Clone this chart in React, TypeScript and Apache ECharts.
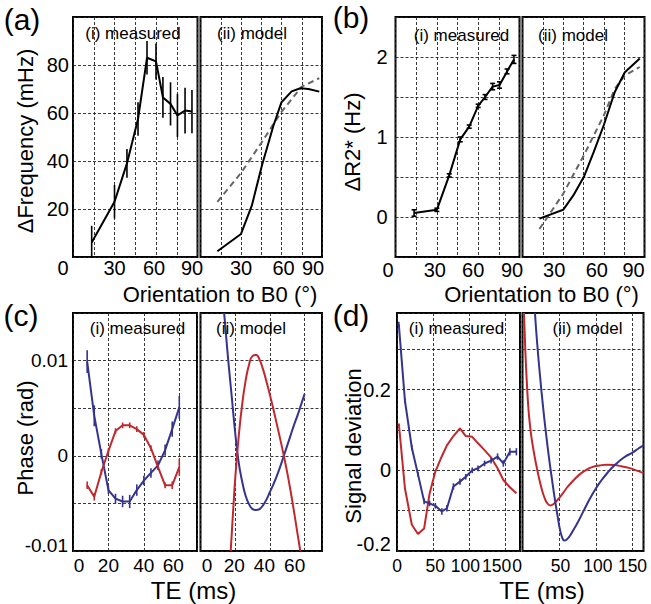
import React, { useEffect, useRef } from "react";
import * as echarts from "echarts";

// ---------- DATA ----------
// (a) / (b): orientation to B0 (degrees)
const measAngles = [13.5, 30, 39, 47, 53.5, 60, 65, 70.5, 75.5, 81, 86];
const freqMeas = [6, 23, 39, 57.5, 83, 81.5, 66.5, 63.8, 59, 61, 60.6];
const freqErr = [7, 7, 6, 7, 7, 7.5, 8.5, 9, 9, 9.5, 9];
const freqModelAngles = [12.5, 30, 38, 45.5, 54, 60, 67.5, 74, 80, 88];
const freqModel = [2.4, 9.6, 21.4, 38.1, 54.7, 64.5, 69, 70.3, 70, 68.9];
const freqModelAltAngles = [12.5, 30, 45, 60, 75, 88];
const freqModelAlt = [23, 35, 47.5, 60.5, 71, 74.5];

const r2Meas = [0.05, 0.09, 0.52, 0.97, 1.13, 1.39, 1.5, 1.63, 1.65, 1.82, 1.97];
const r2Err = [0.04, 0.02, 0.02, 0.03, 0.02, 0.02, 0.03, 0.04, 0.04, 0.03, 0.05];
const r2ModelAngles = [12.5, 30, 37.5, 45.5, 52.5, 60, 68, 75.5, 86.5];
const r2Model = [-0.02, 0.09, 0.27, 0.51, 0.81, 1.15, 1.56, 1.81, 1.98];
const r2ModelAltAngles = [12.5, 30, 45.5, 60, 68, 75.5, 86.5];
const r2ModelAlt = [-0.15, 0.29, 0.78, 1.27, 1.6, 1.77, 1.875];

// (c): phase vs TE (ms)
const phaseTE = [8, 12, 16, 20, 24, 28, 32, 36, 40, 44, 48, 52, 56, 60];
const phaseBlue = [0.0099, 0.0042, 0.0002, -0.0036, -0.0045, -0.0048, -0.0048, -0.0036, -0.0026, -0.0018, -0.001, 0.0006, 0.0028, 0.0051];
const phaseBlueErr = [0.0012, 0.0011, 0.0005, 0.0004, 0.0005, 0.0006, 0.0007, 0.0006, 0.0005, 0.0005, 0.0005, 0.0006, 0.0008, 0.0012];
const phaseRed = [-0.0031, -0.0043, -0.0017, 0.0005, 0.0026, 0.0032, 0.0032, 0.0028, 0.0022, 0.0008, -0.0012, -0.0031, -0.0031, -0.0012];
const phaseRedErr = [0.0004, 0.0004, 0.0003, 0.0003, 0.0003, 0.0003, 0.0003, 0.0003, 0.0003, 0.0003, 0.0003, 0.0003, 0.0004, 0.0009];
const phaseModelBlueTE = [13.6, 14, 16, 18, 20, 22, 24, 26, 28, 30, 32, 34, 36, 38, 40, 42, 44, 46, 48, 50, 52, 54, 56, 58, 60];
const phaseModelBlue = [0.015, 0.0142, 0.01, 0.0062, 0.0024, -0.0007, -0.0027, -0.0042, -0.0051, -0.0056, -0.0057, -0.0056, -0.0052, -0.0046, -0.0038, -0.003, -0.0021, -0.0011, 0.0, 0.0011, 0.0022, 0.0033, 0.0043, 0.0054, 0.0065];
const phaseModelRedTE = [17.4, 18, 19, 20, 22, 24, 26, 28, 30, 32, 34, 36, 38, 40, 42, 44, 46, 48, 50, 52, 54, 56, 57.5];
const phaseModelRed = [-0.01, -0.0082, -0.0052, -0.0024, 0.002, 0.0054, 0.0079, 0.0096, 0.0105, 0.0106, 0.0101, 0.0091, 0.0078, 0.0064, 0.0049, 0.0033, 0.0017, 0.0, -0.0018, -0.0038, -0.006, -0.0083, -0.01];

// (d): signal deviation vs TE (ms)
const sigTE = [2.5, 11, 20.5, 29, 37.5, 45, 53, 62, 69, 78, 87, 95, 104, 112, 121, 130, 139, 147, 156, 165];
const sigBlue = [0.362, 0.172, 0.056, -0.01, -0.077, -0.082, -0.088, -0.102, -0.094, -0.04, -0.028, -0.016, 0.0, 0.005, 0.017, 0.024, 0.034, 0.017, 0.046, 0.046];
const sigBlueErr = [0.006, 0.006, 0.006, 0.006, 0.007, 0.007, 0.007, 0.008, 0.008, 0.008, 0.008, 0.007, 0.007, 0.007, 0.007, 0.007, 0.008, 0.008, 0.009, 0.009];
const sigRed = [0.116, -0.045, -0.135, -0.158, -0.144, -0.058, -0.003, 0.035, 0.062, 0.085, 0.104, 0.085, 0.083, 0.067, 0.05, 0.032, 0.005, -0.024, -0.042, -0.057];
const sigModelBlueTE = [17, 20, 24, 28, 32, 36, 40, 44, 48, 51, 54, 57, 60, 64, 70, 76, 84, 92, 100, 108, 116, 124, 132, 140, 150, 158, 165];
const sigModelBlue = [0.39, 0.315, 0.232, 0.158, 0.092, 0.033, -0.02, -0.07, -0.115, -0.146, -0.166, -0.174, -0.172, -0.164, -0.146, -0.127, -0.098, -0.07, -0.045, -0.024, -0.006, 0.01, 0.023, 0.034, 0.044, 0.054, 0.062];
const sigModelRedTE = [2, 4, 6, 8, 10, 12, 15, 18, 22, 26, 30, 34, 38, 42, 48, 55, 62, 70, 78, 86, 95, 105, 115, 125, 135, 145, 155, 165];
const sigModelRed = [0.39, 0.29, 0.215, 0.155, 0.115, 0.085, 0.05, 0.02, -0.015, -0.045, -0.068, -0.082, -0.087, -0.084, -0.073, -0.057, -0.04, -0.024, -0.01, 0.0, 0.008, 0.012, 0.014, 0.013, 0.01, 0.006, 0.0, -0.007];

// tick labels
const angleTicks = [0, 30, 60, 90];
const angleTicksModel = [30, 60, 90];
const freqTicks = [20, 40, 60, 80];
const r2Ticks = [0, 1, 2];
const teTicksC = [0, 20, 40, 60];
const phaseTicks = [-0.01, 0, 0.01];
const teTicksD = [0, 50, 100, 150];
const sigTicks = [-0.2, 0, 0.2];

// ---------- LAYOUT / STYLE ----------
const FONT = '"Liberation Sans", Arial, Helvetica, sans-serif';
const BLUE = "#34348f";
const RED = "#c0282e";

const GRIDS = [
  { left: 73, top: 17, width: 124.5, height: 240 },
  { left: 200.5, top: 17, width: 121.5, height: 240 },
  { left: 395.5, top: 17, width: 124, height: 240 },
  { left: 522.5, top: 17, width: 122, height: 240 },
  { left: 73, top: 313, width: 124, height: 238 },
  { left: 200.5, top: 313, width: 121.5, height: 238 },
  { left: 397, top: 313, width: 123, height: 238 },
  { left: 522.5, top: 313, width: 121, height: 238 },
];

// x tick-label layout: grid index, ticks, horizontal nudges (px), gap below frame, font size
const X_LABELS: { grid: number; ticks: number[]; dx: number[]; gap: number; fs: number }[] = [
  { grid: 0, ticks: angleTicks, dx: [-10, 0, -2, -5.5], gap: 11, fs: 20 },
  { grid: 1, ticks: angleTicksModel, dx: [0, 2, -9], gap: 11, fs: 20 },
  { grid: 2, ticks: angleTicks, dx: [-7.5, -2, -5, -7.5], gap: 13, fs: 20 },
  { grid: 3, ticks: angleTicksModel, dx: [-9, -7, -11], gap: 13, fs: 20 },
  { grid: 4, ticks: teTicksC, dx: [6, 0, 0, -6], gap: 14, fs: 19 },
  { grid: 5, ticks: teTicksC, dx: [6.5, -1, -5.5, -10], gap: 14, fs: 19 },
  { grid: 6, ticks: teTicksD, dx: [0, 2, -4, -9], gap: 15, fs: 17.5 },
  { grid: 7, ticks: teTicksD, dx: [-5.3, 1.4, 2, 0], gap: 15, fs: 17.5 },
];
const Y_MIN = [0, 0, -0.5, -0.5, -0.01, -0.01, -0.2, -0.2];

const zip = (xs: number[], ys: number[]) => xs.map((x, i) => [x, ys[i]]);
const bars = (xs: number[], ys: number[], es: number[]) =>
  xs.map((x, i) => [x, ys[i] - es[i], ys[i] + es[i]]);

function yLabel(ticks: number[], dy: number[], margin: number, fontSize: number) {
  const rich: any = {};
  ticks.forEach((t, i) => {
    const d = dy[i] || 0;
    rich["s" + i] = {
      fontFamily: FONT, fontSize, color: "#000",
      padding: [d > 0 ? 2 * d : 0, 0, d < 0 ? -2 * d : 0, 0],
    };
  });
  return {
    show: true, margin, fontFamily: FONT, fontSize, color: "#000",
    showMinLabel: true, showMaxLabel: true, hideOverlap: false,
    formatter: (v: number) => {
      const i = ticks.findIndex((t) => Math.abs(t - v) < 1e-7);
      return i < 0 ? "" : `{s${i}|${ticks[i]}}`;
    },
    rich,
  };
}

const splitLine = { show: true, lineStyle: { color: "#222", width: 0.9, type: [3, 2] } };

function xAxis(gi: number, min: number, max: number, interval: number) {
  return {
    type: "value", gridIndex: gi, min, max, interval,
    axisLine: { show: false, onZero: false }, axisTick: { show: false },
    splitLine, axisLabel: { show: false },
  };
}
function yAxis(gi: number, min: number, max: number, interval: number, label: any) {
  return {
    type: "value", gridIndex: gi, min, max, interval,
    axisLine: { show: false, onZero: false }, axisTick: { show: false },
    splitLine, axisLabel: label || { show: false },
  };
}

function line(gi: number, data: number[][], color: string, opts: any = {}) {
  return {
    type: "line", xAxisIndex: gi, yAxisIndex: gi, data,
    showSymbol: false, symbol: "none", clip: true, z: 4,
    smooth: opts.smooth || false,
    lineStyle: { color, width: opts.width || 2, type: opts.type || "solid" },
  };
}

function errBars(gi: number, data: number[][], color: string, cap = 0) {
  return {
    type: "custom", xAxisIndex: gi, yAxisIndex: gi, data, clip: true, z: 5,
    encode: { x: 0, y: [1, 2] },
    renderItem: (params: any, api: any) => {
      const x = api.value(0);
      const a = api.coord([x, api.value(1)]);
      const b = api.coord([x, api.value(2)]);
      const st = { stroke: color, lineWidth: 1.6 };
      const children: any[] = [
        { type: "line", shape: { x1: a[0], y1: a[1], x2: b[0], y2: b[1] }, style: st },
      ];
      if (cap) {
        children.push({ type: "line", shape: { x1: a[0] - cap, y1: a[1], x2: a[0] + cap, y2: a[1] }, style: st });
        children.push({ type: "line", shape: { x1: b[0] - cap, y1: b[1], x2: b[0] + cap, y2: b[1] }, style: st });
      }
      return { type: "group", children };
    },
  };
}

function txt(id: string, text: string, x: number, y: number, size: number, rot = 0) {
  return {
    id, type: "text", x, y, rotation: rot, z: 10,
    style: { text, fontFamily: FONT, fontSize: size, fill: "#000", align: "center", verticalAlign: "middle" },
  };
}

export default function App() {
  const ref = useRef<HTMLDivElement>(null);
  useEffect(() => {
    if (!ref.current) return;
    const chart = echarts.init(ref.current, undefined, { renderer: "svg" });
    const baseGraphics = [
      txt("la", "(a)", 22, 19, 30),
      txt("lb", "(b)", 351, 17, 30),
      txt("lc", "(c)", 21, 315, 30),
      txt("ld", "(d)", 351, 315, 30),
      txt("s1", "(i) measured", 133, 33, 17),
      txt("s2", "(ii) model", 252, 33, 17),
      txt("s3", "(i) measured", 461.5, 35, 17),
      txt("s4", "(ii) model", 573, 35, 17),
      txt("s5", "(i) measured", 137.5, 328, 17),
      txt("s6", "(ii) model", 251, 328, 17),
      txt("s7", "(i) measured", 456.5, 328, 17),
      txt("s8", "(ii) model", 587.5, 328, 17),
      txt("t1", "Orientation to B0 (°)", 220, 294, 22),
      txt("t2", "Orientation to B0 (°)", 541.5, 294, 22),
      txt("t3", "TE (ms)", 193.5, 590, 24),
      txt("t4", "TE (ms)", 542, 590, 24),
      txt("t5", "ΔFrequency (mHz)", 25, 141, 22, Math.PI / 2),
      txt("t6", "ΔR2* (Hz)", 352, 142, 22, Math.PI / 2),
      txt("t7", "Phase (rad)", 25, 438, 22, Math.PI / 2),
      txt("t8", "Signal deviation", 353, 446, 22, Math.PI / 2),
    ];
    const option: any = {
      animation: false,
      backgroundColor: "#fff",
      grid: GRIDS.map((g) => ({ ...g, show: true, borderColor: "#000", borderWidth: 2, backgroundColor: "transparent" })),
      xAxis: [
        xAxis(0, 0, 90, 15),
        xAxis(1, 0, 90, 15),
        xAxis(2, 0, 90, 15),
        xAxis(3, 0, 90, 15),
        xAxis(4, 0, 70, 20),
        xAxis(5, 0, 70, 20),
        xAxis(6, 0, 170, 50),
        xAxis(7, 0, 165, 50),
      ],
      yAxis: [
        yAxis(0, 0, 100, 20, yLabel(freqTicks, [], 4, 20)),
        yAxis(1, 0, 100, 20, null),
        yAxis(2, -0.5, 2.5, 0.5, yLabel(r2Ticks, [], 8, 20)),
        yAxis(3, -0.5, 2.5, 0.5, null),
        yAxis(4, -0.01, 0.015, 0.005, yLabel(phaseTicks, [-6, 0, 0], 5, 19)),
        yAxis(5, -0.01, 0.015, 0.005, null),
        yAxis(6, -0.2, 0.39, 0.1, yLabel(sigTicks, [-7.5, 0, 0], 6, 20)),
        yAxis(7, -0.2, 0.39, 0.1, null),
      ],
      series: [
        // (a)
        line(0, zip(measAngles, freqMeas), "#000"),
        errBars(0, bars(measAngles, freqMeas, freqErr), "#000"),
        line(1, zip(freqModelAltAngles, freqModelAlt), "#666", { type: [6, 4] }),
        line(1, zip(freqModelAngles, freqModel), "#000"),
        // (b)
        line(2, zip(measAngles, r2Meas), "#000"),
        errBars(2, bars(measAngles, r2Meas, r2Err), "#000", 2.5),
        line(3, zip(r2ModelAltAngles, r2ModelAlt), "#666", { type: [6, 4] }),
        line(3, zip(r2ModelAngles, r2Model), "#000"),
        // (c)
        line(4, zip(phaseTE, phaseBlue), BLUE),
        errBars(4, bars(phaseTE, phaseBlue, phaseBlueErr), BLUE),
        line(4, zip(phaseTE, phaseRed), RED),
        errBars(4, bars(phaseTE, phaseRed, phaseRedErr), RED),
        line(5, zip(phaseModelBlueTE, phaseModelBlue), BLUE, { smooth: true }),
        line(5, zip(phaseModelRedTE, phaseModelRed), RED, { smooth: true }),
        // (d)
        line(6, zip(sigTE, sigRed), RED),
        line(6, zip(sigTE, sigBlue), BLUE),
        errBars(6, bars(sigTE, sigBlue, sigBlueErr), BLUE),
        line(7, zip(sigModelRedTE, sigModelRed), RED, { smooth: true }),
        line(7, zip(sigModelBlueTE, sigModelBlue), BLUE, { smooth: true }),
      ],
      graphic: baseGraphics,
    };
    chart.setOption(option);

    // x tick labels placed at the grids' own pixel positions for each tick value
    const tickTexts: any[] = [];
    X_LABELS.forEach((cfg) => {
      cfg.ticks.forEach((v, i) => {
        const p = chart.convertToPixel({ gridIndex: cfg.grid } as any, [v, Y_MIN[cfg.grid]]) as any;
        const px = Array.isArray(p) ? p[0] : Number(p);
        const py = Array.isArray(p) ? p[1] : 0;
        tickTexts.push(txt(`xl${cfg.grid}t${i}`, String(v), px + cfg.dx[i], py + cfg.gap, cfg.fs));
      });
    });
    chart.setOption({ graphic: [...baseGraphics, ...tickTexts] });
    return () => chart.dispose();
  }, []);
  return <div ref={ref} style={{ position: "absolute", left: 0, top: 0, width: 651, height: 604 }} />;
}
